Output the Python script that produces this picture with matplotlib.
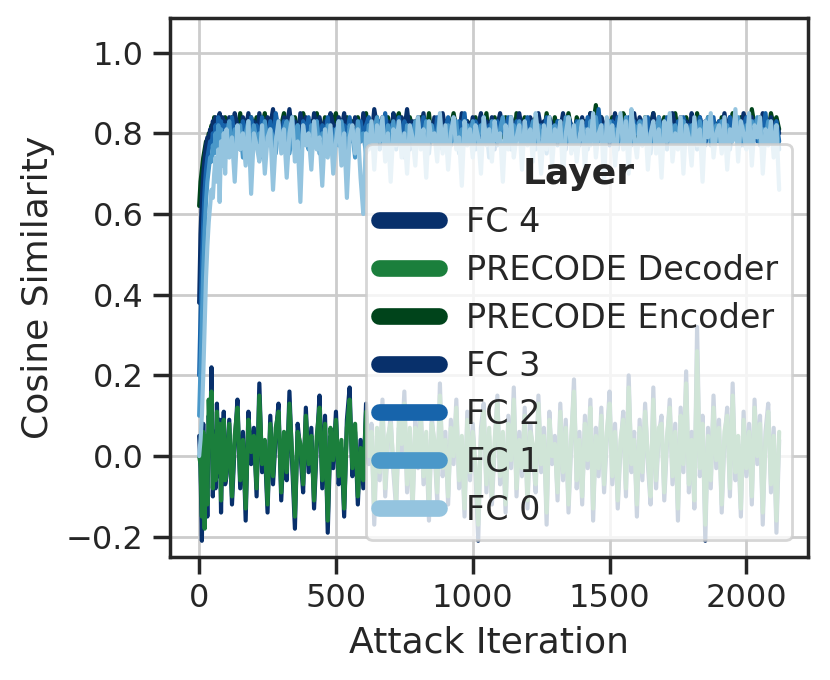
import numpy as np
import matplotlib
matplotlib.use("Agg")
import matplotlib.pyplot as plt
import seaborn as sns

# attack iterations: every 5 steps up to 95, then every 10 steps
iters = list(range(0, 100, 5)) + list(range(100, 2121, 10))

labels = ["FC 4", "PRECODE Decoder", "PRECODE Encoder", "FC 3", "FC 2", "FC 1", "FC 0"]
colors = ["#08306b", "#1b7f3c", "#00441b", "#08306b", "#1764ab", "#4a98c9", "#94c4df"]

fc4 = [0.05, -0.03, -0.21, 0.08, -0.12, 0.04, -0.15, 0.10, 0.01, 0.22, -0.10, 0.06, -0.08, 0.13, -0.05, 0.09, -0.14, 0.03, 0.11, -0.07,
       -0.05, 0.09, -0.12, 0.03, 0.14, -0.08, 0.06, -0.16, 0.11, -0.02,
       0.07, -0.10, 0.18, -0.04, 0.02, -0.14, 0.10, -0.07, 0.05, 0.13,
       -0.11, 0.04, -0.06, 0.16, -0.02, -0.18, 0.08, 0.01, -0.09, 0.12,
       -0.04, 0.07, -0.13, 0.03, 0.15, -0.08, 0.10, -0.19, 0.05, -0.03,
       0.11, -0.07, 0.02, -0.15, 0.09, 0.17, -0.05, 0.06, -0.12, 0.04,
       -0.08, 0.13, -0.02, 0.08, -0.17, 0.05, -0.06, 0.14, -0.10, 0.03,
       0.10, -0.04, -0.13, 0.07, 0.01, 0.16, -0.09, 0.05, -0.14, 0.09,
       -0.03, 0.12, -0.07, 0.04, -0.16, 0.10, 0.02, -0.11, 0.18, -0.05,
       0.06, -0.12, 0.09, -0.02, 0.14, -0.08, 0.03, -0.15, 0.11, -0.06,
       0.08, -0.04, -0.21, 0.07, 0.13, -0.09, 0.05, -0.12, 0.02, 0.15,
       -0.07, 0.04, -0.14, 0.10, -0.03, 0.17, -0.10, 0.06, -0.05, 0.12,
       -0.13, 0.08, 0.01, -0.09, 0.15, -0.04, 0.07, -0.17, 0.11, -0.02,
       0.05, -0.11, 0.13, -0.06, 0.09, -0.14, 0.03, 0.19, -0.08, 0.06,
       -0.12, 0.10, -0.03, 0.14, -0.16, 0.07, -0.05, 0.12, -0.09, 0.04,
       0.16, -0.07, 0.08, -0.13, 0.02, 0.11, -0.10, 0.20, -0.04, 0.06,
       -0.15, 0.09, -0.06, 0.13, -0.02, -0.12, 0.17, -0.08, 0.05, 0.10,
       -0.11, 0.03, 0.14, -0.07, 0.08, -0.16, 0.12, -0.04, 0.21, -0.09,
       0.06, -0.13, 0.32, -0.05, 0.10, -0.21, 0.07, -0.08, 0.15, -0.03,
       0.09, -0.14, 0.04, 0.12, -0.10, 0.18, -0.06, 0.03, -0.15, 0.11,
       -0.05, 0.08, -0.12, 0.14, -0.02, 0.10, -0.17, 0.06, 0.13, -0.09,
       0.07, -0.19, 0.04]

decoder = [0.00, -0.02, -0.15, 0.06, -0.18, 0.05, -0.12, 0.14, 0.03, 0.16, -0.08, 0.05, -0.06, 0.11, -0.04, 0.08, -0.11, 0.04, 0.09, -0.06,
           -0.04, 0.08, -0.10, 0.05, 0.12, -0.06, 0.04, -0.13, 0.09, 0.01,
           0.05, -0.08, 0.15, -0.02, 0.04, -0.12, 0.08, -0.05, 0.07, 0.11,
           -0.09, 0.06, -0.04, 0.13, 0.00, -0.15, 0.06, 0.03, -0.07, 0.10,
           -0.02, 0.05, -0.11, 0.05, 0.12, -0.06, 0.08, -0.16, 0.07, -0.01,
           0.09, -0.05, 0.04, -0.13, 0.07, 0.14, -0.03, 0.08, -0.10, 0.02,
           -0.06, 0.11, 0.00, 0.06, -0.14, 0.07, -0.04, 0.12, -0.08, 0.05,
           0.08, -0.02, -0.11, 0.09, 0.03, 0.13, -0.07, 0.07, -0.12, 0.07,
           -0.01, 0.10, -0.05, 0.06, -0.13, 0.08, 0.04, -0.09, 0.15, -0.03,
           0.04, -0.10, 0.07, 0.00, 0.12, -0.06, 0.05, -0.13, 0.09, -0.04,
           0.06, -0.02, -0.17, 0.05, 0.11, -0.07, 0.07, -0.10, 0.04, 0.13,
           -0.05, 0.06, -0.12, 0.08, -0.01, 0.14, -0.08, 0.04, -0.03, 0.10,
           -0.11, 0.06, 0.03, -0.07, 0.13, -0.02, 0.05, -0.14, 0.09, 0.00,
           0.03, -0.09, 0.11, -0.04, 0.07, -0.12, 0.05, 0.16, -0.06, 0.04,
           -0.10, 0.08, -0.01, 0.12, -0.13, 0.05, -0.03, 0.10, -0.07, 0.06,
           0.13, -0.05, 0.06, -0.11, 0.04, 0.09, -0.08, 0.17, -0.02, 0.04,
           -0.12, 0.07, -0.04, 0.11, 0.00, -0.10, 0.14, -0.06, 0.07, 0.08,
           -0.09, 0.05, 0.12, -0.05, 0.06, -0.13, 0.10, -0.02, 0.18, -0.07,
           0.04, -0.11, 0.26, -0.03, 0.08, -0.17, 0.05, -0.06, 0.12, -0.01,
           0.07, -0.12, 0.06, 0.10, -0.08, 0.15, -0.04, 0.05, -0.13, 0.09,
           -0.03, 0.06, -0.10, 0.12, 0.00, 0.08, -0.14, 0.04, 0.11, -0.07,
           0.05, -0.16, 0.06]

encoder = [0.62, 0.68, 0.71, 0.74, 0.76, 0.78, 0.77, 0.80, 0.79, 0.82, 0.81, 0.84, 0.80, 0.83, 0.79, 0.84, 0.81, 0.83, 0.80, 0.84,
           0.83, 0.79, 0.84, 0.81, 0.78, 0.85, 0.80, 0.83, 0.77, 0.84,
           0.81, 0.84, 0.79, 0.82, 0.85, 0.78, 0.83, 0.80, 0.84, 0.79,
           0.82, 0.85, 0.80, 0.83, 0.78, 0.84, 0.81, 0.79, 0.85, 0.82,
           0.78, 0.83, 0.80, 0.85, 0.81, 0.79, 0.84, 0.82, 0.78, 0.83,
           0.85, 0.80, 0.82, 0.79, 0.84, 0.81, 0.83, 0.77, 0.84, 0.80,
           0.82, 0.85, 0.79, 0.83, 0.81, 0.84, 0.78, 0.82, 0.80, 0.84,
           0.81, 0.79, 0.83, 0.85, 0.80, 0.82, 0.78, 0.84, 0.81, 0.83,
           0.79, 0.84, 0.82, 0.80, 0.85, 0.78, 0.83, 0.81, 0.84, 0.80,
           0.83, 0.79, 0.82, 0.85, 0.81, 0.78, 0.84, 0.80, 0.83, 0.82,
           0.80, 0.84, 0.79, 0.83, 0.81, 0.85, 0.78, 0.82, 0.84, 0.80,
           0.82, 0.79, 0.84, 0.81, 0.83, 0.78, 0.85, 0.80, 0.82, 0.84,
           0.79, 0.83, 0.81, 0.84, 0.78, 0.82, 0.80, 0.85, 0.81, 0.79,
           0.84, 0.80, 0.83, 0.78, 0.82, 0.85, 0.81, 0.79, 0.84, 0.82,
           0.80, 0.83, 0.79, 0.85, 0.82, 0.87, 0.81, 0.84, 0.78, 0.83,
           0.81, 0.84, 0.80, 0.82, 0.79, 0.85, 0.83, 0.80, 0.84, 0.81,
           0.78, 0.83, 0.81, 0.84, 0.80, 0.82, 0.85, 0.79, 0.83, 0.80,
           0.84, 0.81, 0.79, 0.83, 0.85, 0.80, 0.82, 0.78, 0.84, 0.81,
           0.83, 0.79, 0.85, 0.81, 0.82, 0.78, 0.84, 0.80, 0.83, 0.82,
           0.80, 0.84, 0.81, 0.83, 0.79, 0.85, 0.82, 0.80, 0.84, 0.81,
           0.83, 0.80, 0.86, 0.82, 0.79, 0.84, 0.81, 0.83, 0.80, 0.85,
           0.82, 0.84, 0.81]

fc3 = [0.38, 0.55, 0.64, 0.70, 0.74, 0.77, 0.79, 0.78, 0.81, 0.80, 0.83, 0.81, 0.84, 0.80, 0.83, 0.85, 0.81, 0.84, 0.79, 0.83,
       0.80, 0.84, 0.79, 0.85, 0.82, 0.78, 0.84, 0.81, 0.85, 0.80,
       0.83, 0.79, 0.85, 0.81, 0.78, 0.84, 0.82, 0.86, 0.80, 0.83,
       0.79, 0.84, 0.82, 0.86, 0.80, 0.83, 0.78, 0.85, 0.81, 0.84,
       0.82, 0.79, 0.85, 0.81, 0.84, 0.80, 0.83, 0.78, 0.85, 0.82,
       0.80, 0.84, 0.81, 0.85, 0.79, 0.83, 0.80, 0.84, 0.82, 0.78,
       0.85, 0.81, 0.83, 0.79, 0.86, 0.82, 0.80, 0.84, 0.81, 0.83,
       0.79, 0.85, 0.82, 0.80, 0.84, 0.81, 0.86, 0.80, 0.83, 0.79,
       0.84, 0.81, 0.85, 0.79, 0.83, 0.80, 0.84, 0.82, 0.78, 0.85,
       0.81, 0.83, 0.80, 0.84, 0.82, 0.79, 0.85, 0.81, 0.83, 0.80,
       0.84, 0.79, 0.82, 0.85, 0.80, 0.83, 0.81, 0.84, 0.79, 0.82,
       0.85, 0.81, 0.83, 0.79, 0.84, 0.82, 0.80, 0.85, 0.81, 0.83,
       0.80, 0.84, 0.82, 0.79, 0.85, 0.81, 0.83, 0.80, 0.84, 0.82,
       0.79, 0.83, 0.81, 0.85, 0.80, 0.84, 0.82, 0.78, 0.83, 0.81,
       0.84, 0.80, 0.82, 0.85, 0.81, 0.83, 0.79, 0.84, 0.82, 0.80,
       0.83, 0.81, 0.85, 0.79, 0.84, 0.82, 0.80, 0.83, 0.81, 0.85,
       0.80, 0.84, 0.82, 0.79, 0.83, 0.81, 0.85, 0.80, 0.84, 0.82,
       0.81, 0.83, 0.79, 0.85, 0.82, 0.80, 0.84, 0.81, 0.83, 0.79,
       0.85, 0.82, 0.80, 0.84, 0.81, 0.83, 0.79, 0.84, 0.82, 0.80,
       0.83, 0.81, 0.85, 0.80, 0.84, 0.82, 0.79, 0.83, 0.81, 0.85,
       0.82, 0.80, 0.84, 0.81, 0.83, 0.79, 0.85, 0.82, 0.80, 0.84,
       0.81, 0.83, 0.80]

fc2 = [0.20, 0.35, 0.48, 0.58, 0.66, 0.71, 0.74, 0.76, 0.78, 0.77, 0.80, 0.78, 0.82, 0.79, 0.84, 0.80, 0.83, 0.78, 0.82, 0.80,
       0.82, 0.77, 0.84, 0.79, 0.81, 0.76, 0.83, 0.80, 0.78, 0.84,
       0.79, 0.82, 0.76, 0.84, 0.80, 0.78, 0.83, 0.77, 0.85, 0.81,
       0.78, 0.83, 0.80, 0.76, 0.84, 0.79, 0.82, 0.77, 0.83, 0.80,
       0.84, 0.78, 0.81, 0.83, 0.77, 0.82, 0.79, 0.84, 0.76, 0.81,
       0.80, 0.83, 0.77, 0.82, 0.79, 0.84, 0.78, 0.81, 0.76, 0.83,
       0.79, 0.82, 0.84, 0.77, 0.81, 0.78, 0.83, 0.80, 0.85, 0.79,
       0.82, 0.77, 0.80, 0.84, 0.78, 0.83, 0.81, 0.76, 0.82, 0.80,
       0.83, 0.79, 0.84, 0.77, 0.81, 0.82, 0.78, 0.84, 0.80, 0.76,
       0.81, 0.84, 0.79, 0.82, 0.77, 0.83, 0.80, 0.85, 0.78, 0.82,
       0.77, 0.83, 0.81, 0.79, 0.84, 0.78, 0.82, 0.80, 0.76, 0.83,
       0.80, 0.82, 0.78, 0.84, 0.81, 0.77, 0.83, 0.79, 0.82, 0.80,
       0.84, 0.78, 0.81, 0.83, 0.77, 0.82, 0.80, 0.84, 0.79, 0.81,
       0.78, 0.83, 0.80, 0.82, 0.76, 0.84, 0.81, 0.79, 0.83, 0.77,
       0.82, 0.80, 0.84, 0.78, 0.83, 0.81, 0.86, 0.79, 0.82, 0.80,
       0.77, 0.83, 0.81, 0.84, 0.79, 0.82, 0.78, 0.84, 0.80, 0.83,
       0.81, 0.78, 0.83, 0.80, 0.84, 0.77, 0.82, 0.79, 0.83, 0.81,
       0.79, 0.84, 0.80, 0.82, 0.77, 0.83, 0.81, 0.84, 0.78, 0.82,
       0.80, 0.83, 0.79, 0.84, 0.81, 0.77, 0.82, 0.80, 0.84, 0.78,
       0.83, 0.80, 0.82, 0.78, 0.84, 0.81, 0.79, 0.83, 0.77, 0.82,
       0.84, 0.79, 0.81, 0.83, 0.78, 0.82, 0.80, 0.85, 0.79, 0.81,
       0.80, 0.83, 0.78]

fc1 = [0.10, 0.22, 0.34, 0.46, 0.56, 0.63, 0.68, 0.71, 0.74, 0.73, 0.77, 0.75, 0.80, 0.76, 0.82, 0.78, 0.81, 0.76, 0.80, 0.78,
       0.79, 0.83, 0.75, 0.81, 0.77, 0.82, 0.74, 0.80, 0.83, 0.76,
       0.82, 0.78, 0.80, 0.74, 0.83, 0.77, 0.81, 0.79, 0.75, 0.82,
       0.77, 0.81, 0.83, 0.75, 0.80, 0.78, 0.82, 0.74, 0.81, 0.79,
       0.76, 0.82, 0.79, 0.83, 0.75, 0.80, 0.77, 0.82, 0.78, 0.74,
       0.81, 0.77, 0.83, 0.79, 0.76, 0.82, 0.80, 0.74, 0.83, 0.78,
       0.80, 0.75, 0.82, 0.78, 0.81, 0.84, 0.76, 0.80, 0.77, 0.82,
       0.78, 0.83, 0.76, 0.81, 0.79, 0.74, 0.82, 0.80, 0.77, 0.83,
       0.81, 0.77, 0.79, 0.83, 0.75, 0.82, 0.78, 0.80, 0.84, 0.76,
       0.79, 0.82, 0.77, 0.80, 0.83, 0.75, 0.81, 0.78, 0.82, 0.79,
       0.83, 0.76, 0.80, 0.82, 0.78, 0.81, 0.74, 0.83, 0.79, 0.77,
       0.81, 0.84, 0.78, 0.80, 0.76, 0.82, 0.79, 0.83, 0.77, 0.81,
       0.78, 0.80, 0.83, 0.76, 0.82, 0.79, 0.81, 0.75, 0.83, 0.80,
       0.82, 0.77, 0.81, 0.79, 0.84, 0.78, 0.80, 0.76, 0.82, 0.83,
       0.79, 0.81, 0.76, 0.83, 0.80, 0.84, 0.78, 0.82, 0.77, 0.80,
       0.83, 0.78, 0.81, 0.76, 0.82, 0.80, 0.84, 0.79, 0.77, 0.82,
       0.80, 0.83, 0.77, 0.81, 0.79, 0.75, 0.82, 0.80, 0.84, 0.78,
       0.81, 0.76, 0.83, 0.79, 0.82, 0.80, 0.77, 0.83, 0.81, 0.78,
       0.82, 0.80, 0.76, 0.83, 0.79, 0.81, 0.84, 0.77, 0.80, 0.82,
       0.78, 0.83, 0.80, 0.82, 0.76, 0.81, 0.79, 0.84, 0.80, 0.77,
       0.82, 0.79, 0.83, 0.80, 0.84, 0.77, 0.81, 0.79, 0.83, 0.80,
       0.78, 0.82, 0.76]

fc0 = [0.00, 0.04, 0.10, 0.20, 0.32, 0.44, 0.52, 0.58, 0.62, 0.66, 0.64, 0.70, 0.74, 0.68, 0.76, 0.63, 0.78, 0.72, 0.80, 0.70,
       0.81, 0.74, 0.79, 0.68, 0.82, 0.76, 0.80, 0.72, 0.83, 0.65,
       0.80, 0.77, 0.73, 0.82, 0.70, 0.79, 0.81, 0.66, 0.78, 0.83,
       0.75, 0.81, 0.69, 0.80, 0.84, 0.73, 0.78, 0.63, 0.82, 0.77,
       0.80, 0.71, 0.83, 0.76, 0.79, 0.67, 0.81, 0.74, 0.82, 0.70,
       0.78, 0.83, 0.72, 0.80, 0.64, 0.79, 0.82, 0.75, 0.81, 0.69,
       0.60, 0.80, 0.76, 0.83, 0.71, 0.82, 0.78, 0.84, 0.73, 0.80,
       0.68, 0.81, 0.77, 0.83, 0.74, 0.80, 0.70, 0.82, 0.79, 0.72,
       0.84, 0.76, 0.81, 0.69, 0.83, 0.78, 0.80, 0.73, 0.85, 0.75,
       0.82, 0.71, 0.80, 0.84, 0.76, 0.79, 0.67, 0.83, 0.77, 0.81,
       0.74, 0.82, 0.79, 0.70, 0.84, 0.77, 0.81, 0.73, 0.83, 0.78,
       0.80, 0.68, 0.82, 0.76, 0.84, 0.74, 0.79, 0.82, 0.71, 0.83,
       0.77, 0.81, 0.73, 0.85, 0.79, 0.70, 0.82, 0.76, 0.84, 0.72,
       0.81, 0.78, 0.83, 0.69, 0.80, 0.84, 0.75, 0.82, 0.73, 0.79,
       0.83, 0.71, 0.81, 0.77, 0.85, 0.74, 0.80, 0.82, 0.68, 0.84,
       0.78, 0.82, 0.72, 0.80, 0.85, 0.76, 0.83, 0.70, 0.86, 0.79,
       0.74, 0.82, 0.77, 0.84, 0.71, 0.80, 0.83, 0.75, 0.81, 0.69,
       0.83, 0.78, 0.85, 0.73, 0.80, 0.76, 0.84, 0.70, 0.82, 0.79,
       0.72, 0.84, 0.77, 0.81, 0.68, 0.83, 0.79, 0.85, 0.74, 0.80,
       0.82, 0.75, 0.84, 0.71, 0.81, 0.78, 0.86, 0.73, 0.83, 0.80,
       0.76, 0.85, 0.72, 0.82, 0.79, 0.84, 0.70, 0.81, 0.77, 0.83,
       0.74, 0.82, 0.66]

series = [fc4, decoder, encoder, fc3, fc2, fc1, fc0]

sns.set_theme(context="notebook", style="ticks", rc={"axes.grid": True})
plt.rcParams['font.family'] = ['DejaVu Sans']

fig = plt.figure(figsize=(4.15, 3.4), dpi=200)
ax = fig.add_axes([0.205, 0.181, 0.7687, 0.7926])

for vals, lab, col in zip(series, labels, colors):
    ax.plot(iters, vals, color=col, lw=1.5, label=lab)

ax.set_ylim(-0.25, 1.086)
ax.set_yticks([-0.2, 0.0, 0.2, 0.4, 0.6, 0.8, 1.0])
ax.set_xticks([0, 500, 1000, 1500, 2000])
ax.tick_params(labelsize=11.5)
ax.set_xlabel("Attack Iteration", fontsize=13)
ax.set_ylabel("Cosine Similarity", fontsize=13)

leg = ax.legend(title="Layer", loc="lower right", fontsize=12, handlelength=1.8,
                labelspacing=0.45,
                title_fontproperties={"weight": "bold", "size": 13})
for h in leg.get_lines():
    h.set_linewidth(6)

fig.savefig("out.png", dpi=200)
